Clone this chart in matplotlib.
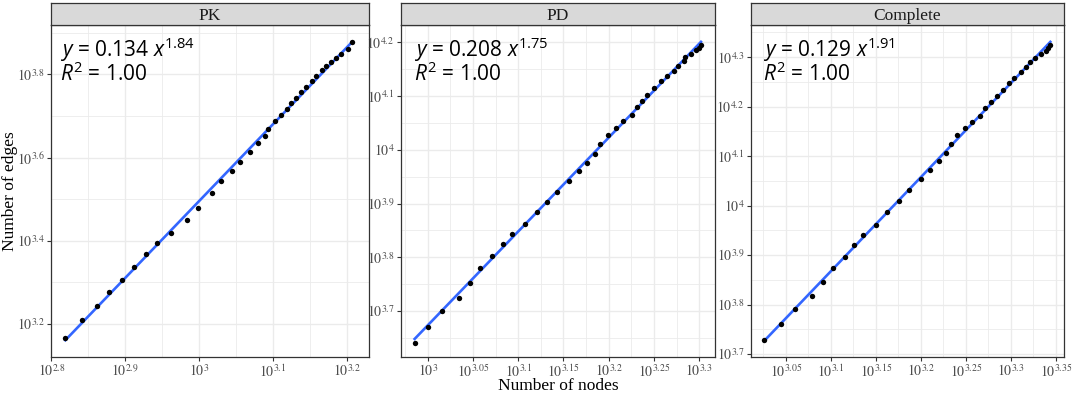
import numpy as np
import matplotlib
matplotlib.use("Agg")
import matplotlib.pyplot as plt
from matplotlib.ticker import FixedLocator, FuncFormatter, NullFormatter

plt.rcParams['font.family'] = ['Liberation Serif', 'DejaVu Serif']
plt.rcParams['mathtext.fontset'] = 'stix'
plt.rcParams['mathtext.rm'] = 'Open Sans'
plt.rcParams['mathtext.it'] = 'Open Sans:italic'
plt.rcParams['mathtext.bf'] = 'Open Sans:bold'

# ---- data (log10 of number of nodes / number of edges) ----
panel_titles = ["PK", "PD", "Complete"]

pk_nodes_exp = [2.8189, 2.8415, 2.8612, 2.8784, 2.8950, 2.9120, 2.9284, 2.9428, 2.9612, 2.9834,
                2.9990, 3.0172, 3.0293, 3.0450, 3.0558, 3.0685, 3.0793, 3.0888, 3.0937, 3.1023,
                3.1104, 3.1193, 3.1248, 3.1307, 3.1382, 3.1446, 3.1527, 3.1585, 3.1662, 3.1720,
                3.1784, 3.1855, 3.1919, 3.2018, 3.2063]
pk_edges_exp = [3.167, 3.2103, 3.244, 3.276, 3.3065, 3.338, 3.3675, 3.3947, 3.4195, 3.4507,
                3.4796, 3.515, 3.5438, 3.5678, 3.5894, 3.6127, 3.635, 3.6519, 3.6695, 3.6873,
                3.7024, 3.7175, 3.7305, 3.744, 3.7567, 3.7692, 3.7837, 3.7964, 3.811, 3.8214,
                3.831, 3.8406, 3.8495, 3.8606, 3.877]

pd_nodes_exp = [2.9856, 3.0000, 3.0155, 3.0346, 3.0467, 3.0574, 3.0707, 3.0828, 3.0931, 3.1071,
                3.1207, 3.1314, 3.1428, 3.1564, 3.1675, 3.1756, 3.1845, 3.1907, 3.1995, 3.2080,
                3.2157, 3.2257, 3.2309, 3.2371, 3.2426, 3.2500, 3.2577, 3.2643, 3.2717, 3.2768,
                3.2831, 3.2846, 3.2905, 3.2964, 3.2993, 3.3019]
pd_edges_exp = [3.641, 3.6702, 3.6994, 3.7248, 3.7521, 3.7806, 3.8023, 3.8252, 3.8427, 3.8625,
                3.8837, 3.9034, 3.922, 3.9419, 3.9605, 3.976, 3.9916, 4.0102, 4.0275, 4.0411,
                4.053, 4.0647, 4.079, 4.0908, 4.1025, 4.1155, 4.128, 4.1373, 4.1466, 4.1559,
                4.1652, 4.1721, 4.1788, 4.1851, 4.19, 4.195]

co_nodes_exp = [3.0256, 3.0444, 3.0603, 3.0786, 3.0914, 3.1019, 3.1156, 3.1256, 3.1359, 3.1500,
                3.1626, 3.1756, 3.1863, 3.2000, 3.2100, 3.2197, 3.2278, 3.2333, 3.2400, 3.2492,
                3.2570, 3.2659, 3.2711, 3.2778, 3.2844, 3.2908, 3.2981, 3.3037, 3.3111, 3.3163,
                3.3214, 3.3263, 3.3330, 3.3386, 3.3408, 3.3437]
co_edges_exp = [3.7287, 3.761, 3.7907, 3.8176, 3.8459, 3.8747, 3.897, 3.9212, 3.9402, 3.9616,
                3.9867, 4.0101, 4.0323, 4.0539, 4.0727, 4.0897, 4.1071, 4.1253, 4.1422, 4.157,
                4.1697, 4.1818, 4.1968, 4.2089, 4.2216, 4.2343, 4.2479, 4.2586, 4.2707, 4.2796,
                4.2897, 4.2978, 4.3059, 4.3125, 4.318, 4.3246]

eq_coef = ["0.134", "0.208", "0.129"]
eq_power = ["1.84", "1.75", "1.91"]
eq_r2 = ["1.00", "1.00", "1.00"]

x_breaks = [[2.8, 2.9, 3.0, 3.1, 3.2],
            [3.0, 3.05, 3.1, 3.15, 3.2, 3.25, 3.3],
            [3.05, 3.1, 3.15, 3.2, 3.25, 3.3, 3.35]]
y_breaks = [[3.2, 3.4, 3.6, 3.8],
            [3.7, 3.8, 3.9, 4.0, 4.1, 4.2],
            [3.7, 3.8, 3.9, 4.0, 4.1, 4.2, 4.3]]
x_lims = [(2.7995, 3.2297), (2.9702, 3.3174), (3.0108, 3.3589)]
y_lims = [(3.1207, 3.9188), (3.6144, 4.2322), (3.694, 4.365)]
text_x = [0.028, 0.042, 0.038]

series = [(pk_nodes_exp, pk_edges_exp), (pd_nodes_exp, pd_edges_exp), (co_nodes_exp, co_edges_exp)]

# ---- layout ----
W, H = 1072, 393
fig = plt.figure(figsize=(W / 100, H / 100), dpi=100)
panel_px = [(51, 369), (400.7, 715), (750.7, 1064)]
top_px, bot_px, strip_top_px = 25, 357, 3

grid_col = '#EBEBEB'
border_col = '#333333'


def minor_breaks(b, lim):
    b = list(b)
    d = b[1] - b[0]
    ext = [b[0] - d] + b + [b[-1] + d]
    mids = [(ext[i] + ext[i + 1]) / 2 for i in range(len(ext) - 1)]
    return [m for m in mids if lim[0] <= m <= lim[1]]


def fmt(v, pos):
    e = round(np.log10(v), 4)
    return r"$10^{%s}$" % (f"{e:g}")


for i, (l, r) in enumerate(panel_px):
    ax = fig.add_axes([l / W, (H - bot_px) / H, (r - l) / W, (bot_px - top_px) / H])
    xs = np.array(series[i][0])
    ys = np.array(series[i][1])
    ax.set_xscale('log')
    ax.set_yscale('log')
    ax.set_xlim(10 ** x_lims[i][0], 10 ** x_lims[i][1])
    ax.set_ylim(10 ** y_lims[i][0], 10 ** y_lims[i][1])
    ax.xaxis.set_major_locator(FixedLocator([10 ** b for b in x_breaks[i]]))
    ax.yaxis.set_major_locator(FixedLocator([10 ** b for b in y_breaks[i]]))
    ax.xaxis.set_minor_locator(FixedLocator([10 ** b for b in minor_breaks(x_breaks[i], x_lims[i])]))
    ax.yaxis.set_minor_locator(FixedLocator([10 ** b for b in minor_breaks(y_breaks[i], y_lims[i])]))
    ax.xaxis.set_major_formatter(FuncFormatter(fmt))
    ax.yaxis.set_major_formatter(FuncFormatter(fmt))
    ax.xaxis.set_minor_formatter(NullFormatter())
    ax.yaxis.set_minor_formatter(NullFormatter())
    ax.grid(True, which='major', color=grid_col, lw=1.0, zorder=0)
    ax.grid(True, which='minor', color=grid_col, lw=0.6, zorder=0)
    ax.set_axisbelow(True)
    ax.tick_params(which='major', length=3, width=0.8, color=border_col,
                   labelsize=10, labelcolor='#4D4D4D', pad=1.5)
    ax.tick_params(which='minor', length=0)
    for s in ax.spines.values():
        s.set_color(border_col)
        s.set_linewidth(0.9)

    # fitted power law (linear fit in log-log space)
    k, c = np.polyfit(xs, ys, 1)
    fx = np.linspace(xs.min(), xs.max(), 50)
    ax.plot(10 ** fx, 10 ** (k * fx + c), color='#3366FF', lw=1.9, zorder=3)
    ax.scatter(10 ** xs, 10 ** ys, s=15, color='black', zorder=4, linewidths=0)

    ax.text(text_x[i], 0.904, r"$y$ = %s $x^{%s}$" % (eq_coef[i], eq_power[i]),
            transform=ax.transAxes, fontsize=15, family='Open Sans', math_fontfamily='custom',
            va='baseline', ha='left', color='black')
    ax.text(text_x[i], 0.831, r"$R^{2}$ = %s" % eq_r2[i],
            transform=ax.transAxes, fontsize=15, family='Open Sans', math_fontfamily='custom',
            va='baseline', ha='left', color='black')

    # facet strip
    sax = fig.add_axes([l / W, (H - top_px) / H, (r - l) / W, (top_px - strip_top_px) / H])
    sax.set_facecolor('#D9D9D9')
    sax.set_xticks([])
    sax.set_yticks([])
    for s in sax.spines.values():
        s.set_color(border_col)
        s.set_linewidth(0.9)
    sax.text(0.5, 0.42, panel_titles[i], transform=sax.transAxes, ha='center', va='center',
             fontsize=12.5, color='#1A1A1A')

fig.text((400.7 + 715) / 2 / W, 2.5 / H, "Number of nodes", ha='center', va='baseline', fontsize=12.5)
fig.text(10.5 / W, (H - (top_px + bot_px) / 2) / H, "Number of edges", ha='center', va='center',
         rotation=90, fontsize=12.5)

fig.savefig("out.png", dpi=100)
